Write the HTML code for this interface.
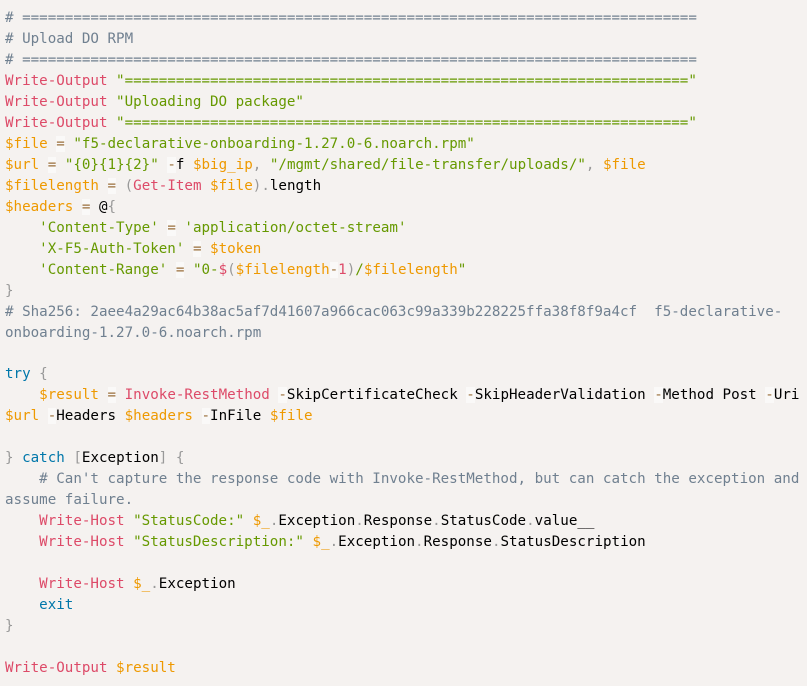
<!DOCTYPE html>
<html><head><meta charset="utf-8"><style>
html,body{margin:0;padding:0;background:#f5f2f0;width:807px;height:686px;overflow:hidden}
pre{margin:0;position:absolute;left:5px;top:8px;font-family:"DejaVu Sans Mono","Liberation Mono",monospace;font-size:14.2px;line-height:20.97px;color:#000;white-space:pre}
.c{color:#708090}.k{color:#dd4a68}.s{color:#669900}.v{color:#ee9900}.b{color:#0077aa}.p{color:#999}.o{color:#9a6e3a;background:hsla(0,0%,100%,.5)}
</style></head><body><pre><span class="c"># ===============================================================================</span>
<span class="c"># Upload DO RPM</span>
<span class="c"># ===============================================================================</span>
<span class="k">Write-Output</span> <span class="s">"=================================================================="</span>
<span class="k">Write-Output</span> <span class="s">"Uploading DO package"</span>
<span class="k">Write-Output</span> <span class="s">"=================================================================="</span>
<span class="v">$file</span> <span class="o">=</span> <span class="s">"f5-declarative-onboarding-1.27.0-6.noarch.rpm"</span>
<span class="v">$url</span> <span class="o">=</span> <span class="s">"{0}{1}{2}"</span> <span class="o">-</span>f <span class="v">$big_ip</span><span class="p">,</span> <span class="s">"/mgmt/shared/file-transfer/uploads/"</span><span class="p">,</span> <span class="v">$file</span>
<span class="v">$filelength</span> <span class="o">=</span> <span class="p">(</span><span class="k">Get-Item</span> <span class="v">$file</span><span class="p">)</span><span class="p">.</span>length
<span class="v">$headers</span> <span class="o">=</span> @<span class="p">{</span>
    <span class="s">'Content-Type'</span> <span class="o">=</span> <span class="s">'application/octet-stream'</span>
    <span class="s">'X-F5-Auth-Token'</span> <span class="o">=</span> <span class="v">$token</span>
    <span class="s">'Content-Range'</span> <span class="o">=</span> <span class="s">"0-</span><span class="k">$</span><span class="p">(</span><span class="v">$filelength</span><span class="o">-</span><span class="k">1</span><span class="p">)</span><span class="s">/</span><span class="v">$filelength</span><span class="s">"</span>
<span class="p">}</span>
<span class="c"># Sha256: 2aee4a29ac64b38ac5af7d41607a966cac063c99a339b228225ffa38f8f9a4cf  f5-declarative-</span>
<span class="c">onboarding-1.27.0-6.noarch.rpm</span>

<span class="b">try</span> <span class="p">{</span>
    <span class="v">$result</span> <span class="o">=</span> <span class="k">Invoke-RestMethod</span> <span class="o">-</span>SkipCertificateCheck <span class="o">-</span>SkipHeaderValidation <span class="o">-</span>Method Post <span class="o">-</span>Uri
<span class="v">$url</span> <span class="o">-</span>Headers <span class="v">$headers</span> <span class="o">-</span>InFile <span class="v">$file</span>

<span class="p">}</span> <span class="b">catch</span> <span class="p">[</span>Exception<span class="p">]</span> <span class="p">{</span>
    <span class="c"># Can't capture the response code with Invoke-RestMethod, but can catch the exception and</span>
<span class="c">assume failure.</span>
    <span class="k">Write-Host</span> <span class="s">"StatusCode:"</span> <span class="v">$_</span><span class="p">.</span>Exception<span class="p">.</span>Response<span class="p">.</span>StatusCode<span class="p">.</span>value__
    <span class="k">Write-Host</span> <span class="s">"StatusDescription:"</span> <span class="v">$_</span><span class="p">.</span>Exception<span class="p">.</span>Response<span class="p">.</span>StatusDescription

    <span class="k">Write-Host</span> <span class="v">$_</span><span class="p">.</span>Exception
    <span class="b">exit</span>
<span class="p">}</span>

<span class="k">Write-Output</span> <span class="v">$result</span></pre></body></html>
